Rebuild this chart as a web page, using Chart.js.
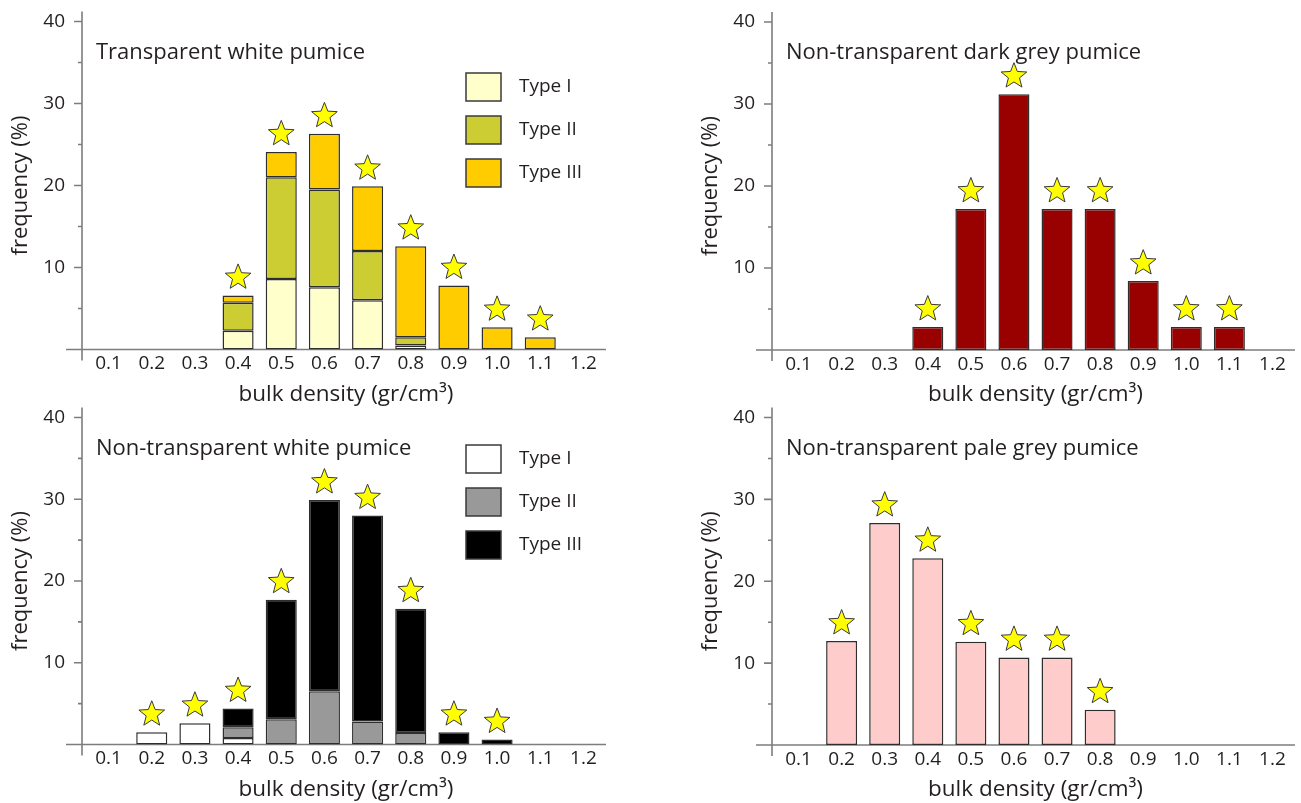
<!DOCTYPE html>
<html lang="en">
<head>
<meta charset="UTF-8">
<title>Pumice bulk density</title>
<script src="https://cdn.jsdelivr.net/npm/chart.js"></script>
<style>
  body { margin: 0; background: #fff; }
  canvas { position: absolute; }
</style>
</head>
<body>
<canvas id="twChart" width="650" height="408" style="left:0;top:0"></canvas>
<canvas id="dgChart" width="651" height="408" style="left:650px;top:0"></canvas>
<canvas id="nwChart" width="650" height="403" style="left:0;top:400px"></canvas>
<canvas id="pgChart" width="651" height="403" style="left:650px;top:400px"></canvas>
<script>
const densityLabels = ['0.1', '0.2', '0.3', '0.4', '0.5', '0.6', '0.7', '0.8', '0.9', '1.0', '1.1', '1.2'];
const typeLabels = ['Type I', 'Type II', 'Type III'];

// transparent white pumice, stacked by type (%)
const twType1 = [null, null, null, 2.3, 8.6, 7.6, 6.0, 0.5, null, null, null, null];
const twType2 = [null, null, null, 3.4, 12.4, 11.9, 6.0, 1.0, null, null, null, null];
const twType3 = [null, null, null, 0.9, 3.1, 6.8, 7.9, 11.1, 7.8, 2.7, 1.5, null];

// non-transparent white pumice, stacked by type (%)
const nwType1 = [null, 1.5, 2.6, 0.8, null, null, null, null, null, null, null, null];
const nwType2 = [null, null, null, 1.3, 3.1, 6.5, 2.8, 1.4, null, null, null, null];
const nwType3 = [null, null, null, 2.3, 14.6, 23.4, 25.2, 15.2, 1.5, 0.6, null, null];

// non-transparent dark grey / pale grey pumice (%)
const dgFreq = [null, null, null, 2.8, 17.2, 31.2, 17.2, 17.2, 8.4, 2.8, 2.8, null];
const pgFreq = [null, 12.7, 27.1, 22.8, 12.6, 10.7, 10.7, 4.3, null, null, null, null];

const FONT = "'Open Sans', sans-serif";
const INK = '#231f20';
const AXIS = '#7d7d7d';
Chart.defaults.font.family = FONT;
Chart.defaults.color = INK;

function drawStar(ctx, cx, cy, R, r) {
  ctx.save();
  ctx.beginPath();
  for (let k = 0; k < 10; k++) {
    const rad = k % 2 ? r : R;
    const a = -Math.PI / 2 + k * Math.PI / 5;
    const px = cx + rad * Math.cos(a), py = cy + rad * Math.sin(a);
    k ? ctx.lineTo(px, py) : ctx.moveTo(px, py);
  }
  ctx.closePath();
  ctx.fillStyle = '#ffff00';
  ctx.fill();
  ctx.lineWidth = 1;
  ctx.strokeStyle = '#3a3a3a';
  ctx.stroke();
  ctx.restore();
}

// axis lines with long/short ticks, drawn under the bars
const axisLines = {
  id: 'axisLines',
  beforeDatasetsDraw(chart) {
    const {ctx, chartArea: a, scales: {y}} = chart;
    const ax = a.left - 5;
    ctx.save();
    ctx.strokeStyle = AXIS;
    ctx.lineWidth = 1.6;
    ctx.beginPath();
    ctx.moveTo(ax, a.top - 10);
    ctx.lineTo(ax, a.bottom + 11);
    ctx.moveTo(a.left - 21, a.bottom);
    ctx.lineTo(a.right + 1, a.bottom);
    for (let v = 5; v <= 40; v += 5) {
      const py = y.getPixelForValue(v);
      ctx.moveTo(ax - (v % 10 === 0 ? 8 : 4), py);
      ctx.lineTo(ax, py);
    }
    ctx.stroke();
    ctx.restore();
  }
};

// star above every non-empty bin
const starMarks = {
  id: 'starMarks',
  afterDatasetsDraw(chart) {
    const {ctx, scales: {x, y}} = chart;
    densityLabels.forEach((_, i) => {
      const total = chart.data.datasets.reduce((s, ds) => s + (ds.data[i] || 0), 0);
      if (!total) return;
      drawStar(ctx, x.getPixelForValue(i), y.getPixelForValue(total) - 18, 13.5, 5.8);
    });
  }
};

function panelText(title, legendTop) {
  return {
    id: 'panelText',
    afterDraw(chart) {
      const {ctx, chartArea: a} = chart;
      ctx.save();
      ctx.fillStyle = INK;
      ctx.textBaseline = 'middle';
      ctx.font = `22px ${FONT}`;
      ctx.fillText(title, a.left + 9, a.top + 31);
      if (legendTop != null) {
        ctx.font = `19px ${FONT}`;
        chart.data.datasets.forEach((ds, k) => {
          const bx = a.left + 379, by = a.top + legendTop + k * 43;
          ctx.fillStyle = ds.backgroundColor;
          ctx.fillRect(bx, by, 35, 28);
          ctx.strokeStyle = '#3a3a3a';
          ctx.lineWidth = 1.5;
          ctx.strokeRect(bx, by, 35, 28);
          ctx.fillStyle = INK;
          ctx.fillText(ds.label, bx + 53, by + 14);
        });
      }
      ctx.restore();
    }
  };
}

function makePanel(id, datasets, title, legendTop, padLeft, padRight, padTop, xHeight) {
  return new Chart(document.getElementById(id), {
    type: 'bar',
    data: { labels: densityLabels, datasets },
    options: {
      responsive: false,
      animation: false,
      layout: { padding: { left: padLeft, right: padRight, top: padTop, bottom: 0 } },
      plugins: { legend: { display: false }, tooltip: { enabled: false } },
      datasets: {
        bar: { barPercentage: 0.72, categoryPercentage: 1, borderWidth: 1.5, borderColor: '#2e2e2e', borderSkipped: false }
      },
      scales: {
        x: {
          stacked: true,
          grid: { display: false, drawTicks: false },
          border: { display: false },
          ticks: { padding: 3, font: { size: 19 }, autoSkip: false, maxRotation: 0 },
          title: { display: true, text: 'bulk density (gr/cm³)', font: { size: 22.5 }, padding: 0 },
          afterFit(s) { s.height = xHeight; s.paddingLeft = 0; s.paddingRight = 0; }
        },
        y: {
          stacked: true,
          min: 0,
          max: 40,
          grid: { display: false, drawTicks: false },
          border: { display: false },
          ticks: {
            stepSize: 5,
            padding: 22,
            font: { size: 19 },
            callback: v => (v > 0 && v % 10 === 0 ? v : '')
          },
          title: { display: true, text: 'frequency (%)', font: { size: 22 }, padding: { top: 8, bottom: 0 } },
          afterFit(s) { s.width = 87; s.paddingTop = 0; s.paddingBottom = 0; }
        }
      }
    },
    plugins: [axisLines, starMarks, panelText(title, legendTop)]
  });
}

makePanel('twChart', [
  { label: typeLabels[0], data: twType1, backgroundColor: '#ffffcc' },
  { label: typeLabels[1], data: twType2, backgroundColor: '#cccc33' },
  { label: typeLabels[2], data: twType3, backgroundColor: '#ffcc00' }
], 'Transparent white pumice', 51.5, 0, 45, 21.5, 58.5);

makePanel('dgChart', [
  { label: 'frequency', data: dgFreq, backgroundColor: '#990000' }
], 'Non-transparent dark grey pumice', null, 40, 7, 22, 58);

makePanel('nwChart', [
  { label: typeLabels[0], data: nwType1, backgroundColor: '#ffffff' },
  { label: typeLabels[1], data: nwType2, backgroundColor: '#999999' },
  { label: typeLabels[2], data: nwType3, backgroundColor: '#000000' }
], 'Non-transparent white pumice', 27.5, 0, 45, 17.5, 58.5);

makePanel('pgChart', [
  { label: 'frequency', data: pgFreq, backgroundColor: '#ffcccc' }
], 'Non-transparent pale grey pumice', null, 40, 7, 17.5, 58);
</script>
</body>
</html>
